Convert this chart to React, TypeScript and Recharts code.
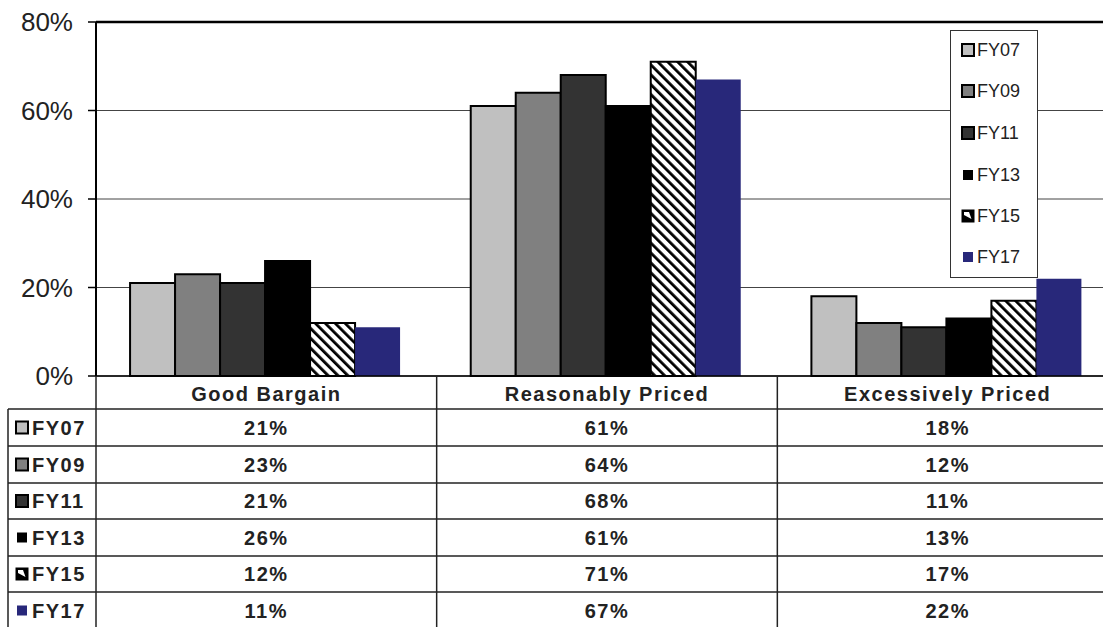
import React from 'react';
import { BarChart, Bar, XAxis, YAxis, CartesianGrid, ReferenceLine } from 'recharts';

const categories = ['Good Bargain', 'Reasonably Priced', 'Excessively Priced'];
const seriesNames = ['FY07', 'FY09', 'FY11', 'FY13', 'FY15', 'FY17'];
const fy07 = [21, 61, 18];
const fy09 = [23, 64, 12];
const fy11 = [21, 68, 11];
const fy13 = [26, 61, 13];
const fy15 = [12, 71, 17];
const fy17 = [11, 67, 22];
const yTicks = [0, 20, 40, 60, 80];

const seriesValues = [fy07, fy09, fy11, fy13, fy15, fy17];
const fills = ['#c0c0c0', '#808080', '#333333', '#000000', 'url(#hatch)', '#28287a'];
const strokes = ['#000', '#000', '#000', '#000', '#000', 'none'];

const data = categories.map((c, i) => {
  const row: Record<string, any> = { category: c };
  seriesNames.forEach((s, j) => {
    row[s] = seriesValues[j][i];
  });
  return row;
});

const VIEW_W = 1103;
const W = 1118;
const H = 627;
const PLOT_LEFT = 96;
const PLOT_TOP = 22;
const PLOT_BOTTOM = 376;
const ROW_LINES = [409, 446, 483, 519, 556, 592, 629];
const TABLE_LEFT = 8;
const FONT = '"Liberation Sans", Arial, sans-serif';
const LINE = '#222';

const Marker = ({ idx, x, cy }: { idx: number; x: number; cy: number }) => {
  if (idx === 3) return <rect x={x + 1} y={cy - 5} width={10} height={10} fill="#000" />;
  if (idx === 5) return <rect x={x + 1} y={cy - 5} width={10} height={10} fill="#28287a" />;
  if (idx === 4)
    return (
      <g>
        <rect x={x} y={cy - 6} width={12} height={12} fill="#000" stroke="#000" strokeWidth={1} />
        <polygon
          points={`${x + 2},${cy - 4} ${x + 7},${cy - 4} ${x + 9.5},${cy + 3} ${x + 2},${cy - 1}`}
          fill="#fff"
        />
      </g>
    );
  return <rect x={x} y={cy - 6} width={12} height={12} fill={fills[idx]} stroke="#000" strokeWidth={2} />;
};

const TableTick = (props: any) => {
  const { x, payload } = props;
  const i = payload.index ?? props.index;
  const band = (W - PLOT_LEFT) / categories.length;
  const right = x + band / 2;
  const textStyle = {
    fontFamily: FONT,
    fontWeight: 700,
    fontSize: 20,
    letterSpacing: 1.5,
    fill: '#222',
  } as any;
  return (
    <g>
      {i === 0 && (
        <g>
          {ROW_LINES.slice(0, 6).map((ry) => (
            <line key={ry} x1={TABLE_LEFT} x2={W} y1={ry} y2={ry} stroke={LINE} strokeWidth={1.5} />
          ))}
          <line x1={TABLE_LEFT} x2={TABLE_LEFT} y1={ROW_LINES[0]} y2={H} stroke={LINE} strokeWidth={1.5} />
          <line x1={PLOT_LEFT} x2={PLOT_LEFT} y1={PLOT_BOTTOM} y2={H} stroke={LINE} strokeWidth={1.5} />
          {seriesNames.map((s, j) => {
            const cy = (ROW_LINES[j] + ROW_LINES[j + 1]) / 2;
            return (
              <g key={s}>
                <Marker idx={j} x={16} cy={cy} />
                <text x={32} y={cy} dominantBaseline="central" textAnchor="start" style={textStyle}>
                  {s}
                </text>
              </g>
            );
          })}
        </g>
      )}
      <line x1={right} x2={right} y1={PLOT_BOTTOM} y2={H} stroke={LINE} strokeWidth={1.5} />
      <text x={x} y={(PLOT_BOTTOM + ROW_LINES[0]) / 2 + 1} dominantBaseline="central" textAnchor="middle" style={textStyle}>
        {payload.value}
      </text>
      {seriesNames.map((s, j) => (
        <text
          key={s}
          x={x}
          y={(ROW_LINES[j] + ROW_LINES[j + 1]) / 2}
          dominantBaseline="central"
          textAnchor="middle"
          style={textStyle}
        >
          {seriesValues[j][i]}%
        </text>
      ))}
    </g>
  );
};

const legendTops = [50, 91, 133, 175, 216, 257];

export default function App() {
  return (
    <div
      style={{
        position: 'absolute',
        left: 0,
        top: 0,
        width: VIEW_W,
        height: H,
        background: '#fff',
        overflow: 'hidden',
      }}
    >
      <BarChart
        width={W}
        height={H}
        data={data}
        margin={{ top: PLOT_TOP, right: 0, bottom: 0, left: 0 }}
        barCategoryGap="10%"
        barGap={0}
      >
        <defs>
          <pattern id="hatch" patternUnits="userSpaceOnUse" width={7} height={7} patternTransform="rotate(-45)">
            <rect x={0} y={0} width={7} height={7} fill="#fff" />
            <rect x={0} y={0} width={2.8} height={7} fill="#000" />
          </pattern>
        </defs>
        <CartesianGrid vertical={false} stroke="#444" strokeWidth={1} />
        <XAxis
          dataKey="category"
          height={H - PLOT_BOTTOM}
          tickLine={false}
          tickSize={0}
          tickMargin={0}
          interval={0}
          axisLine={{ stroke: '#000', strokeWidth: 1.5 }}
          tick={(p: any) => <TableTick {...p} />}
        />
        <YAxis
          width={PLOT_LEFT}
          domain={[0, 80]}
          ticks={yTicks}
          interval={0}
          tickFormatter={(v: number) => `${v}%`}
          tick={{ fontSize: 26, fill: '#222', fontFamily: FONT }}
          tickSize={8}
          tickMargin={15}
          axisLine={{ stroke: '#000', strokeWidth: 2 }}
          tickLine={{ stroke: '#000', strokeWidth: 1.5 }}
        />
        <ReferenceLine y={80} stroke="#000" strokeWidth={2.5} />
        {seriesNames.map((s, j) => (
          <Bar
            key={s}
            dataKey={s}
            fill={fills[j]}
            stroke={strokes[j]}
            strokeWidth={strokes[j] === 'none' ? 0 : 2}
            isAnimationActive={false}
          />
        ))}
      </BarChart>
      <div
        style={{
          position: 'absolute',
          left: 950,
          top: 30,
          width: 88,
          height: 248,
          border: '1.5px solid #333',
          background: '#fff',
          boxSizing: 'border-box',
        }}
      >
        <svg width={88} height={248} style={{ position: 'absolute', left: -1.5, top: -1.5 }}>
          {seriesNames.map((s, j) => {
            const cy = legendTops[j] - 30;
            return (
              <g key={s}>
                <Marker idx={j} x={12} cy={cy} />
                <text
                  x={27}
                  y={cy}
                  dominantBaseline="central"
                  style={{ fontFamily: FONT, fontSize: 18, fill: '#222' }}
                >
                  {s}
                </text>
              </g>
            );
          })}
        </svg>
      </div>
    </div>
  );
}
